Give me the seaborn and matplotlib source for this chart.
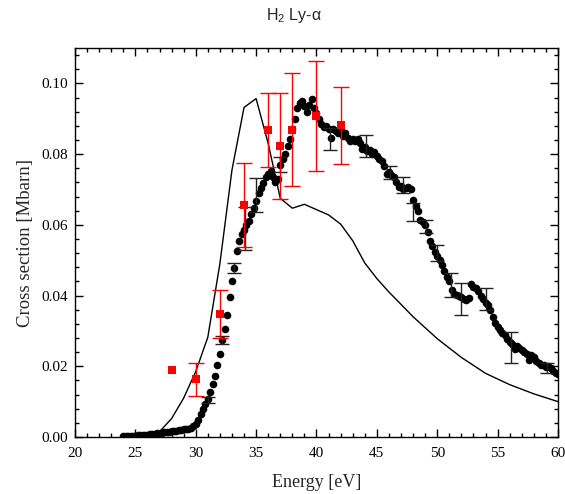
import numpy as np
import pandas as pd
import matplotlib
matplotlib.use("Agg")
import matplotlib.pyplot as plt
import seaborn as sns
from matplotlib.ticker import MultipleLocator, FormatStrFormatter

# ---------------- data ----------------
exp_energy = [
    24.0, 24.2, 24.4, 24.6, 24.8, 25.0, 25.2, 25.4, 25.6, 25.8,
    26.0, 26.2, 26.4, 26.6, 26.8, 27.0, 27.2, 27.4, 27.6, 27.8,
    28.0, 28.2, 28.4, 28.6, 28.8, 29.0, 29.2, 29.4, 29.6, 29.8,
    30.0, 30.2, 30.4, 30.6, 30.8, 31.0, 31.2, 31.4, 31.6, 31.8,
    32.0, 32.2, 32.4, 32.6, 32.8, 33.0, 33.2, 33.4, 33.6, 33.8,
    34.0, 34.2, 34.4, 34.6, 34.8, 35.0, 35.2, 35.4, 35.6, 35.8,
    36.0, 36.2, 36.4, 36.6, 36.8, 37.0, 37.2, 37.4, 37.6, 37.8,
    38.0, 38.2, 38.4, 38.6, 38.8, 39.0, 39.2, 39.4, 39.6, 39.8,
    40.0, 40.2, 40.4, 40.6, 40.8, 41.0, 41.2, 41.4, 41.6, 41.8,
    42.0, 42.2, 42.4, 42.6, 42.8, 43.0, 43.2, 43.4, 43.6, 43.8,
    44.0, 44.2, 44.4, 44.6, 44.8, 45.0, 45.2, 45.4, 45.6, 45.8,
    46.0, 46.2, 46.4, 46.6, 46.8, 47.0, 47.2, 47.4, 47.6, 47.8,
    48.0, 48.2, 48.4, 48.6, 48.8, 49.0, 49.2, 49.4, 49.6, 49.8,
    50.0, 50.2, 50.4, 50.6, 50.8, 51.0, 51.2, 51.4, 51.6, 51.8,
    52.0, 52.2, 52.4, 52.6, 52.8, 53.0, 53.2, 53.4, 53.6, 53.8,
    54.0, 54.2, 54.4, 54.6, 54.8, 55.0, 55.2, 55.4, 55.6, 55.8,
    56.0, 56.2, 56.4, 56.6, 56.8, 57.0, 57.2, 57.4, 57.6, 57.8,
    58.0, 58.2, 58.4, 58.6, 58.8, 59.0, 59.2, 59.4, 59.6, 59.8,
    60.0,
]
exp_sigma = [
    0.0002, 0.0002, 0.0003, 0.0003, 0.0004, 0.0004, 0.0005, 0.0005, 0.0006, 0.0006,
    0.0007, 0.0008, 0.0008, 0.0009, 0.0010, 0.0011, 0.0012, 0.0013, 0.0014, 0.0015,
    0.0016, 0.0017, 0.0018, 0.0019, 0.0021, 0.0022, 0.0023, 0.0024, 0.0026, 0.0030,
    0.0038, 0.0048, 0.0065, 0.0080, 0.0092, 0.0108, 0.0128, 0.0150, 0.0172, 0.0205,
    0.0235, 0.0275, 0.0305, 0.0345, 0.0395, 0.0440, 0.0478, 0.0525, 0.0555, 0.0575,
    0.0585, 0.0600, 0.0612, 0.0630, 0.0648, 0.0668, 0.0690, 0.0705, 0.0718, 0.0735,
    0.0745, 0.0752, 0.0735, 0.0722, 0.0730, 0.0770, 0.0785, 0.0800, 0.0822, 0.0842,
    0.0870, 0.0900, 0.0930, 0.0945, 0.0950, 0.0935, 0.0920, 0.0940, 0.0955, 0.0930,
    0.0915, 0.0900, 0.0885, 0.0878, 0.0880, 0.0870, 0.0845, 0.0872, 0.0865, 0.0860,
    0.0868, 0.0852, 0.0860, 0.0845, 0.0838, 0.0842, 0.0838, 0.0843, 0.0830, 0.0815,
    0.0820, 0.0808, 0.0812, 0.0800, 0.0805, 0.0795, 0.0785, 0.0780, 0.0765, 0.0745,
    0.0750, 0.0740, 0.0735, 0.0722, 0.0708, 0.0710, 0.0702, 0.0705, 0.0708, 0.0700,
    0.0670, 0.0652, 0.0640, 0.0615, 0.0608, 0.0600, 0.0580, 0.0555, 0.0540, 0.0522,
    0.0512, 0.0500, 0.0485, 0.0470, 0.0452, 0.0440, 0.0415, 0.0405, 0.0402, 0.0398,
    0.0395, 0.0390, 0.0388, 0.0392, 0.0432, 0.0425, 0.0420, 0.0412, 0.0400, 0.0390,
    0.0380, 0.0372, 0.0360, 0.0340, 0.0322, 0.0310, 0.0302, 0.0295, 0.0288, 0.0278,
    0.0270, 0.0262, 0.0250, 0.0256, 0.0252, 0.0245, 0.0240, 0.0236, 0.0218, 0.0232,
    0.0225, 0.0215, 0.0210, 0.0205, 0.0203, 0.0198, 0.0200, 0.0195, 0.0188, 0.0182,
    0.0178,
]

# selected experimental error bars (black)
bar_energy = [31.0, 32.2, 33.2, 34.1, 35.0, 37.0, 41.1, 44.1, 46.1, 47.2,
              48.0, 49.1, 50.0, 51.1, 52.0, 54.0, 56.1, 59.1]
bar_sigma = [0.0105, 0.0275, 0.0478, 0.0590, 0.0685, 0.0770, 0.0843, 0.0823, 0.0748, 0.0713,
             0.0636, 0.0595, 0.0520, 0.0430, 0.0390, 0.0390, 0.0254, 0.0195]
bar_err = [0.0008, 0.0012, 0.0015, 0.0060, 0.0048, 0.0022, 0.0030, 0.0030, 0.0018, 0.0023,
           0.0026, 0.0019, 0.0022, 0.0033, 0.0045, 0.0030, 0.0044, 0.0015]

# other measurement (red squares); None = no error bar shown
red_energy = [28, 30, 32, 34, 36, 37, 38, 40, 42]
red_sigma = [0.0190, 0.0163, 0.0348, 0.0656, 0.0869, 0.0823, 0.0869, 0.0907, 0.0881]
red_err = [None, 0.0047, 0.0068, 0.0118, 0.0105, 0.0150, 0.0160, 0.0156, 0.0108]

# theory (thin line)
th_energy = [24, 25, 26, 27, 28, 29, 30, 31, 32, 33, 34, 35, 36, 37, 38, 39, 40,
             41, 42, 43, 44, 45, 46, 48, 50, 52, 54, 56, 58, 60]
th_sigma = [0.0000, 0.0001, 0.0003, 0.0015, 0.0052, 0.0110, 0.0185, 0.0282, 0.0490,
            0.0755, 0.0932, 0.0957, 0.0830, 0.0675, 0.0647, 0.0658, 0.0643, 0.0628,
            0.0602, 0.0555, 0.0492, 0.0448, 0.0410, 0.0340, 0.0278, 0.0225, 0.0180,
            0.0148, 0.0122, 0.0100]

# ---------------- plot ----------------
sns.set_style("ticks")
plt.rcParams["font.family"] = ["Liberation Serif", "DejaVu Serif"]
plt.rcParams["mathtext.fontset"] = "custom"
plt.rcParams["mathtext.rm"] = "Liberation Sans"

fig = plt.figure(figsize=(5.65, 4.94), dpi=100)
ax = fig.add_axes([0.1327, 0.1154, 0.8549, 0.7874])

df_th = pd.DataFrame({"E": th_energy, "s": th_sigma})
df_exp = pd.DataFrame({"E": exp_energy, "s": exp_sigma})
df_red = pd.DataFrame({"E": red_energy, "s": red_sigma,
                       "err": pd.array(red_err, dtype="Float64")})
df_red_bar = df_red.dropna(subset=["err"])

sns.lineplot(data=df_th, x="E", y="s", ax=ax, color="black", lw=1.0,
             estimator=None, sort=False, zorder=2)
sns.scatterplot(data=df_exp, x="E", y="s", ax=ax, color="black", s=30,
                edgecolor="black", linewidth=0, zorder=3)
ax.errorbar(bar_energy, bar_sigma, yerr=bar_err, fmt="none", ecolor="#222222",
            elinewidth=1.0, capsize=5, capthick=1.0, zorder=3)
ax.errorbar(df_red_bar["E"].to_numpy(float), df_red_bar["s"].to_numpy(float),
            yerr=df_red_bar["err"].to_numpy(float), fmt="none",
            ecolor="#ff0000", elinewidth=1.0, capsize=6, capthick=1.0, zorder=4)
sns.scatterplot(data=df_red, x="E", y="s", ax=ax, color="#ff0000", marker="s",
                s=40, edgecolor="#ff0000", linewidth=0, zorder=5)

ax.set_xlim(20, 60)
ax.set_ylim(0, 0.11)
ax.xaxis.set_major_locator(MultipleLocator(5))
ax.xaxis.set_minor_locator(MultipleLocator(1))
ax.yaxis.set_major_locator(MultipleLocator(0.02))
ax.yaxis.set_minor_locator(MultipleLocator(0.004))
ax.yaxis.set_major_formatter(FormatStrFormatter("%.2f"))
ax.xaxis.set_major_formatter(FormatStrFormatter("%d"))

ax.tick_params(which="both", direction="in", top=True, right=True,
               colors="black", labelsize=11, width=1.0)
ax.tick_params(which="major", length=6)
ax.tick_params(which="minor", length=3)
ax.tick_params(axis="x", which="major", pad=7)
ax.tick_params(axis="y", which="major", pad=5)
for sp in ax.spines.values():
    sp.set_visible(True)
    sp.set_color("black")
    sp.set_linewidth(1.0)

ax.set_xlabel("Energy [eV]", fontsize=13, labelpad=10)
ax.set_ylabel("Cross section [Mbarn]", fontsize=13.5, labelpad=5)
fig.text(0.52, 0.968, "H$_2$ Ly-α", ha="center", va="center",
         fontsize=11.5, family=["Liberation Sans", "DejaVu Sans"])

fig.savefig("out.png", dpi=100)
